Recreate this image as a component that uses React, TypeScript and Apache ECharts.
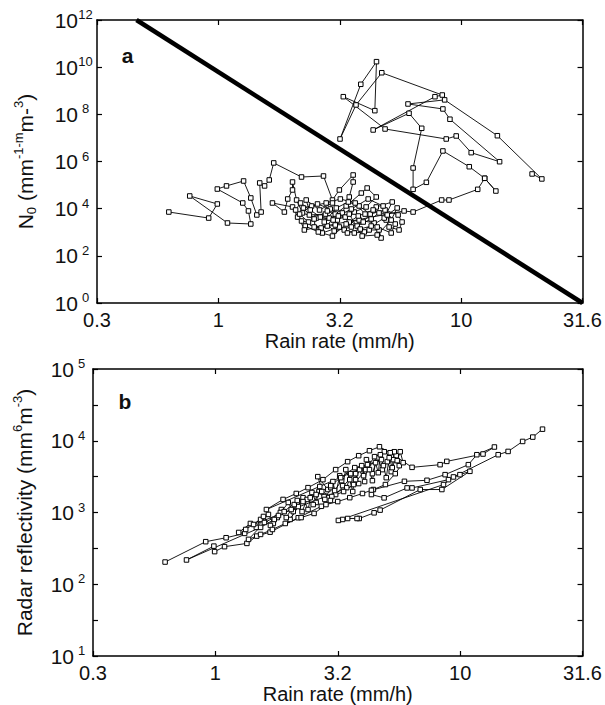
import React, { useEffect, useRef } from 'react';
import * as echarts from 'echarts';

// ---- Tick labels ----
const rainTicks = [0.3, 1, 3.2, 10, 31.6];

// ---- Panel a: rain rate (mm/h) and N0 (mm^-1-m m^-3) ----
const rainA = [
  0.625, 0.912, 0.99, 0.762, 1.09, 1.36, 1.33, 1.26, 0.99, 1.08,
  1.27, 1.36, 1.44, 1.5, 1.48, 1.55, 1.62, 1.69, 2.2, 2.71,
  2.95, 3.15, 3.59, 3.59, 3.46, 3.24, 2.86, 2.53, 2.22, 2.1,
  2.02, 2.02, 1.93, 1.87, 1.67, 2.02, 2.12, 2.2, 2.44, 2.68,
  3.15, 3.3, 3.63, 3.99, 4.18, 4.59, 4.68, 4.38, 3.8, 3.46,
  2.95, 2.61, 2.3, 2.48, 2.81, 3.03, 3.36, 3.88, 4.1, 4.47,
  4.06, 3.63, 3.09, 2.76, 2.37, 2.24, 2.56, 2.89, 3.33, 3.73,
  4.26, 4.59, 4.91, 5.05, 5.55, 5.71, 5.5, 4.86, 4.22, 3.8,
  3.43, 3.06, 2.73, 3.0, 3.53, 3.95, 4.47, 5.2,
  4.82, 4.26, 3.84, 3.4, 3.03, 2.65, 2.35, 2.16, 2.42, 2.78,
  3.18, 3.66, 4.02, 4.51, 5.15, 5.35, 4.77, 4.14, 3.53, 3.12,
  2.81, 2.48, 2.28, 2.58, 2.95, 3.36, 3.77, 4.34, 4.96, 5.45,
  5.15, 4.51, 3.91, 3.46, 2.97, 2.63, 2.39, 2.18, 2.08, 2.26,
  5.82, 6.34,
  8.31, 8.91, 11.7, 12.5, 13.9, 12.5, 10.8, 8.41, 7.19, 6.34,
  6.34, 6.88, 6.1, 4.34, 7.8, 8.36, 4.71, 3.69, 3.17, 3.86,
  4.48, 4.41, 3.27, 4.86, 8.68, 9.54, 11.0, 14.4, 8.99, 8.41,
  6.04, 8.55, 14.1, 21.5, 19.6,
];
const n0A = [
  7.2e3, 4.0e3, 1.58e4, 3.45e4, 2.47e3, 2.24e3, 8.0e3, 1.74e4, 6.8e4, 9.2e4,
  1.49e5, 2.84e4, 5.4e3, 7.2e3, 1.23e5, 9.2e4, 1.65e5, 8.7e5, 2.2e5, 2.43e5,
  2.33e4, 6.2e4, 2.68e5, 1.35e5, 3.13e4, 6.6e3, 4.0e3, 4.0e3, 6.6e3, 2.33e4,
  1.35e5, 6.2e4, 2.57e4, 7.2e3, 1.74e4, 1.18e4, 4.4e3, 3.0e3, 2.47e3, 930,
  1.67e3, 1.25e3, 930, 1.03e3, 1.25e3, 1.25e3, 570, 2.47e3, 3.3e3, 2.72e3,
  1.74e4, 8.8e3, 2.33e4, 1.67e3, 1.84e3, 5.9e3, 1.3e4, 4.6e4, 7.5e4, 3.13e4,
  1.18e4, 7.2e3, 3.3e3, 5.9e3, 5.4e3, 1.07e4, 1.58e4, 9.7e3, 4.4e3, 1.84e3,
  3.65e3, 6.6e3, 3.3e3, 1.67e3, 1.25e3, 2.72e3, 5.4e3, 8.8e3, 5.9e3, 1.3e4,
  1.92e4, 1.07e4, 2.72e3, 1.13e3, 1.67e3, 2.72e3, 1.18e4, 1.92e4,
  4.0e3, 1.84e3, 1.37e3, 930, 2.03e3, 1.52e3, 2.72e3, 5.9e3, 1.3e4, 1.74e4,
  2.57e4, 1.74e4, 5.9e3, 1.67e3, 930, 2.24e3, 1.3e4, 2.57e4, 9.7e3, 4.9e3,
  8.0e3, 3.65e3, 1.84e3, 1.03e3, 690, 2.24e3, 4.9e3, 8.8e3, 5.4e3, 1.07e4,
  3.3e3, 765, 690, 5.9e3, 3.3e3, 4.4e3, 8.8e3, 1.74e4, 8.8e3, 1.25e3,
  8.0e3, 7.2e3,
  2.33e4, 2.33e4, 6.6e4, 1.94e5, 5.6e4, 1.94e5, 6.0e5, 2.8e6, 1.31e5, 6.6e4,
  5.3e5, 2.56e7, 1.11e8, 2.17e7, 5.6e8, 6.6e8, 5.8e9, 2.5e8, 9.0e6, 1.88e9,
  1.71e10, 1.43e8, 5.6e8, 2.39e7, 9.0e6, 1.21e7, 2.37e6, 9.8e5, 6.2e7, 1.69e8,
  2.75e8, 4.1e8, 1.24e7, 1.82e5, 2.96e5,
];

// thick boundary line of panel a
const boundaryRain = [0.46, 31.6];
const boundaryN0 = [1e12, 1];

// ---- Panel b: rain rate (mm/h) and radar reflectivity (mm^6 m^-3) ----
const rainB = [
  0.623, 0.913, 1.106, 1.317,
  1.245, 1.39, 1.33, 1.53, 1.47, 1.647, 1.725, 1.86, 1.79, 1.985,
  2.08, 2.18, 2.02, 2.28, 2.39, 2.48, 2.58, 2.67, 2.78, 2.62,
  2.88, 3.02, 3.1, 3.22, 3.31, 3.41, 3.54, 3.64, 3.74, 3.85,
  1.432, 1.572, 1.678, 1.842, 1.948, 2.1, 2.26, 2.37, 2.51, 2.65,
  2.8, 2.96, 3.07, 3.28, 3.44, 3.57, 3.74, 3.88, 4.07, 4.22,
  4.38, 4.59, 4.81, 5.04, 5.23, 5.48, 5.64, 5.33, 4.9, 4.47,
  4.11, 3.67, 3.34, 2.99, 2.72, 2.44, 2.16, 1.91, 1.74, 1.53,
  0.762, 0.986, 0.993, 1.09, 1.345, 1.476, 1.673, 2.18, 2.71, 2.95,
  3.96, 4.03, 4.14, 4.26, 4.38, 4.51, 4.63, 4.72, 4.86, 4.99,
  5.13, 5.28, 5.38, 5.53, 5.69, 5.85,
  5.43, 4.95, 4.42, 3.99, 3.54, 3.16, 2.83, 2.53, 2.24, 1.93, 1.71, 1.53, 1.366,
  1.586, 1.81, 2.04, 2.28, 2.58, 2.96, 3.25, 3.71, 4.18, 4.77,
  1.616, 1.89, 2.14, 2.39, 2.75, 3.1, 3.47, 3.85, 4.26, 4.68, 5.18,
  6.36, 8.28, 8.82, 12.4, 13.8, 11.7, 10.8, 8.68, 7.32, 5.92,
  4.34, 4.34, 4.89, 6.07, 6.36, 8.96, 9.98, 10.96, 8.42, 6.87,
  4.71, 4.45, 3.87, 3.79, 3.47, 3.31, 3.18, 8.55, 9.39, 14.3,
  15.7, 18.0, 19.8, 21.7,
];
const reflB = [
  204, 392, 445, 511,
  527, 703, 580, 800, 620, 940, 703, 1100, 850, 1380,
  1030, 1210, 800, 1610, 1100, 1900, 1380, 2300, 1670, 3160,
  2090, 2700, 1780, 3260, 2370, 3960, 2870, 1960, 3480, 2530,
  681, 880, 660, 1000, 850, 1290, 1030, 1520, 1290, 1960,
  1520, 2220, 2020, 2780, 2220, 3480, 2870, 3960, 2700, 4800,
  3480, 5800, 3960, 5110, 3710, 6190, 4500, 5450, 7030, 6000,
  3960, 2450, 1960, 1670, 1960, 1610, 1470, 1030, 800, 620,
  218, 340, 285, 334, 371, 469, 532, 845, 1220, 1470,
  4500, 3260, 5450, 3960, 2780, 4950, 3590, 6390, 4500, 3060,
  5800, 4220, 7030, 5280, 7030, 4950,
  3480, 2450, 2090, 1840, 1610, 1420, 1290, 970, 850, 703, 580, 495, 422,
  726, 908, 1100, 1420, 1780, 2370, 3060, 4220, 4640, 5450,
  1100, 1520, 1840, 2220, 2870, 3960, 5110, 6190, 7260, 8250, 6810,
  4260, 4640, 5160, 6530, 8180, 6390, 4640, 3370, 2810, 2720,
  2040, 1780, 1600, 2200, 2200, 2870, 3370, 3750, 2090, 2090,
  1080, 990, 825, 825, 825, 800, 775, 2450, 3130, 6390,
  7100, 9780, 11250, 14500,
];

const FONT = "'Liberation Sans', Arial, sans-serif";
const TXT = '#111';

const toLogPairs = (xs: number[], ys: number[]) =>
  xs.map((x, i) => [Math.log10(x), Math.log10(ys[i])]);

const rainLabel = (v: number) => {
  const i = rainTicks.findIndex((t) => Math.abs(Math.log10(t) - v) < 0.05);
  return i >= 0 ? String(rainTicks[i]) : '';
};

const axisLine = { show: true, onZero: false, lineStyle: { color: '#000', width: 1.5 } };
const axisTick = { show: true, inside: true, length: 5, lineStyle: { color: '#000', width: 1.2 } };

const nameRich = {
  t: { fontSize: 21, fontFamily: FONT, color: TXT, lineHeight: 26 },
  sup: { fontSize: 13, fontFamily: FONT, color: TXT, lineHeight: 13, verticalAlign: 'top' },
  sub: { fontSize: 13, fontFamily: FONT, color: TXT, lineHeight: 13, verticalAlign: 'bottom' },
};

const makeX = (gridIndex: number, labelMargin: number, nameGap: number) => [
  {
    type: 'value', gridIndex, min: -0.5, max: 1.5, interval: 0.5, position: 'bottom',
    axisLine, axisTick, splitLine: { show: false },
    axisLabel: { show: true, margin: labelMargin, fontSize: 20, lineHeight: 20, fontFamily: FONT, color: TXT, formatter: rainLabel },
    name: 'Rain rate (mm/h)', nameLocation: 'middle', nameGap, nameMoveOverlap: false,
    nameTextStyle: { fontSize: 20, lineHeight: 20, fontFamily: FONT, color: TXT },
  },
  {
    type: 'value', gridIndex, min: -0.5, max: 1.5, interval: 0.5, position: 'top',
    axisLine, axisTick, splitLine: { show: false }, axisLabel: { show: false },
  },
];

const makeY = (gridIndex: number, min: number, max: number, interval: number, name: string, nameGap: number) => [
  {
    type: 'value', gridIndex, min, max, interval, position: 'left',
    axisLine, axisTick, splitLine: { show: false },
    axisLabel: {
      show: true, margin: 4,
      formatter: (v: number) => (Number.isInteger(v) ? `{b|10}{s|${v}}` : ''),
      rich: {
        b: { fontSize: 21, fontFamily: FONT, color: TXT, lineHeight: 24 },
        s: { fontSize: 13, fontFamily: FONT, color: TXT, lineHeight: 12, verticalAlign: 'top', width: 15, align: 'left' },
      },
    },
    name, nameLocation: 'middle', nameRotate: 90, nameGap, nameMoveOverlap: false,
    nameTextStyle: { rich: nameRich },
  },
  {
    type: 'value', gridIndex, min, max, interval, position: 'right',
    axisLine, axisTick, splitLine: { show: false }, axisLabel: { show: false },
  },
];

const scatterLine = (xAxisIndex: number, yAxisIndex: number, data: number[][]) => ({
  type: 'line', xAxisIndex, yAxisIndex, data, silent: true, z: 3,
  symbol: 'rect', symbolSize: 4.5, showSymbol: true,
  itemStyle: { color: '#fff', borderColor: '#000', borderWidth: 1 },
  lineStyle: { color: '#000', width: 0.9 },
  emphasis: { disabled: true },
});

export default function App() {
  const ref = useRef<HTMLDivElement>(null);
  useEffect(() => {
    if (!ref.current) return;
    const chart = echarts.init(ref.current, undefined, { renderer: 'svg' });
    chart.setOption({
      animation: false,
      backgroundColor: '#fff',
      grid: [
        { left: 97, top: 20, width: 487, height: 283 },
        { left: 93, top: 369, width: 494, height: 288 },
      ],
      xAxis: [...makeX(0, 7, 28), ...makeX(1, 7, 28)],
      yAxis: [
        ...makeY(0, 0, 12, 2, '{t|N}{sub|0}{t| (mm}{sup|-1-m}{t|m-}{sup|3}{t|)}', 59),
        ...makeY(1, 1, 5, 0.5, '{t|Radar reflectivity (mm}{sup|6}{t|m}{sup|-3}{t|)}', 56),
      ],
      graphic: [
        { type: 'text', x: 127.5, y: 55.5, style: { text: 'a', fontSize: 21, fontWeight: 'bold', fontFamily: FONT, fill: TXT, align: 'center', verticalAlign: 'middle' } },
        { type: 'text', x: 125, y: 401, style: { text: 'b', fontSize: 21, fontWeight: 'bold', fontFamily: FONT, fill: TXT, align: 'center', verticalAlign: 'middle' } },
      ],
      series: [
        scatterLine(0, 0, toLogPairs(rainA, n0A)),
        {
          type: 'line', xAxisIndex: 0, yAxisIndex: 0, silent: true, z: 4,
          data: toLogPairs(boundaryRain, boundaryN0), symbol: 'none',
          lineStyle: { color: '#000', width: 4.5 },
        },
        scatterLine(2, 2, toLogPairs(rainB, reflB)),
      ],
    });
    return () => chart.dispose();
  }, []);
  return <div ref={ref} style={{ position: 'fixed', left: 0, top: 0, width: 605, height: 705, background: '#fff' }} />;
}
